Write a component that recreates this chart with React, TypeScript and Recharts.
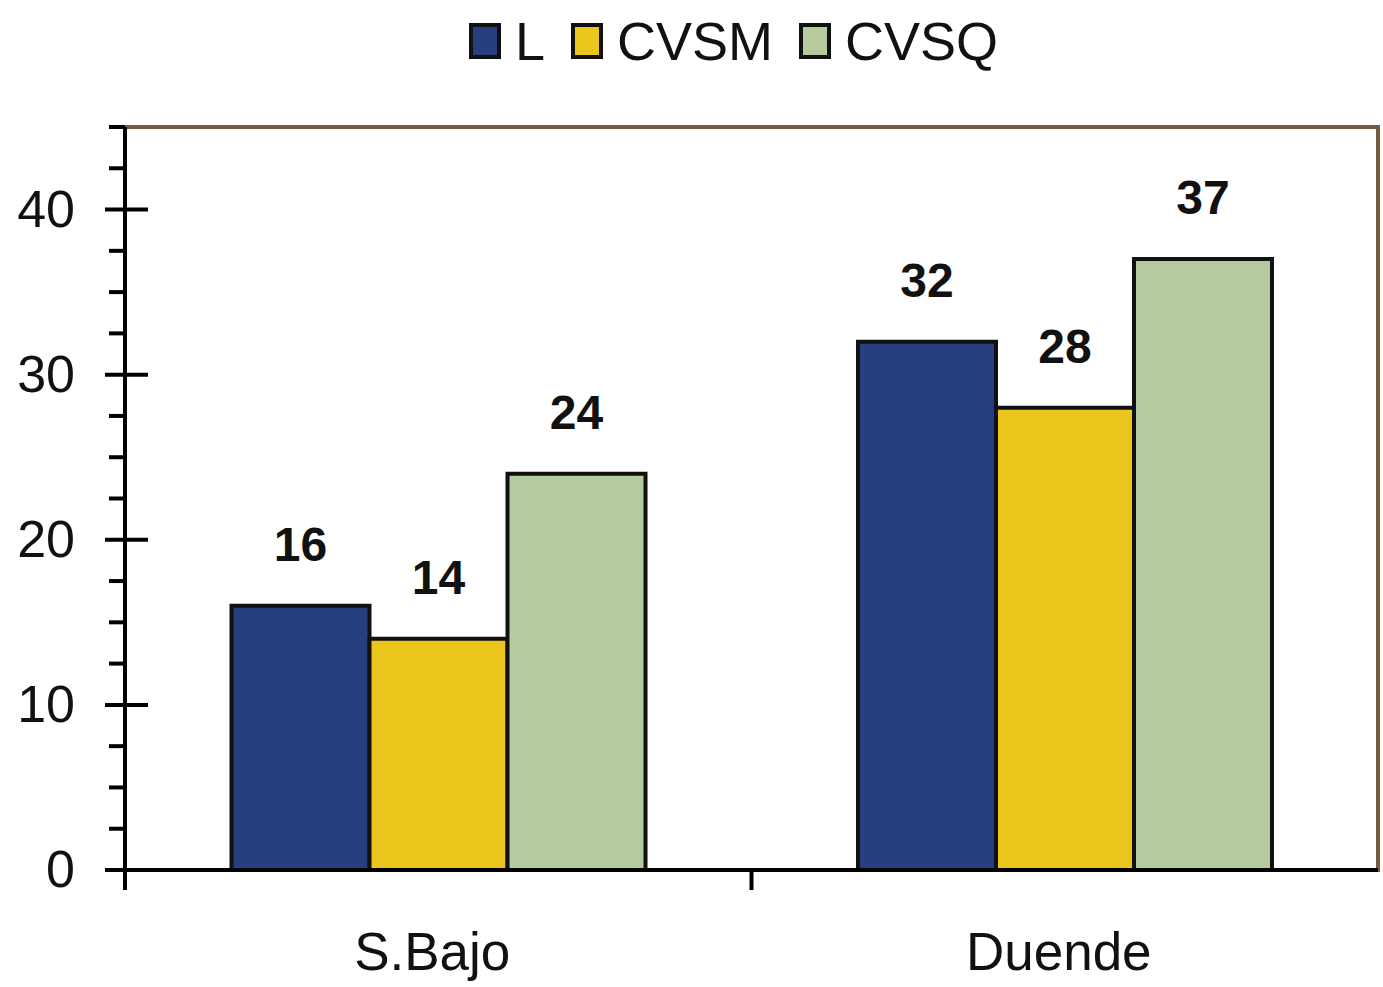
import React from 'react';
import { BarChart, Bar, XAxis, YAxis, Legend, LabelList, ReferenceArea } from 'recharts';

const sites = ['S.Bajo', 'Duende'];
const seriesL = [16, 32];
const seriesCVSM = [14, 28];
const seriesCVSQ = [24, 37];
const yTicks = [0, 2.5, 5, 7.5, 10, 12.5, 15, 17.5, 20, 22.5, 25, 27.5, 30, 32.5, 35, 37.5, 40, 42.5, 45];

const series = [
  { key: 'L', color: '#283f7f' },
  { key: 'CVSM', color: '#ebc71d' },
  { key: 'CVSQ', color: '#b5cb9d' },
];

const data = sites.map((site, i) => ({
  site,
  L: seriesL[i],
  CVSM: seriesCVSM[i],
  CVSQ: seriesCVSQ[i],
}));

const W = 1383;
const H = 987;
const LEFT = 125;
const RIGHT = 5;
const FONT = '"Liberation Sans", Arial, sans-serif';
const halfBand = (W - LEFT - RIGHT) / sites.length / 2;

const YTick = (props: any) => {
  const { x, y, payload } = props;
  const v = payload.value;
  const major = v % 10 === 0;
  return (
    <g>
      <line x1={major ? x - 20 : x - 16} x2={major ? x + 23 : x} y1={y} y2={y} stroke="#000" strokeWidth={4} />
      {v === 0 && <line x1={x} x2={x} y1={y} y2={y + 20} stroke="#000" strokeWidth={4} />}
      {major && (
        <text x={x - 50} y={y} dy={17} textAnchor="end" fontSize={52} fontFamily={FONT} fill="#111">
          {v}
        </text>
      )}
    </g>
  );
};

const XTick = (props: any) => {
  const { x, y, payload, index } = props;
  return (
    <g>
      {index > 0 && <line x1={x - halfBand} x2={x - halfBand} y1={y} y2={y + 18} stroke="#000" strokeWidth={4} />}
      <text x={x - 6} y={y} dy={98} textAnchor="middle" fontSize={53} fontFamily={FONT} fill="#111">
        {payload.value}
      </text>
    </g>
  );
};

const renderLegend = () => (
  <div style={{ display: 'flex', justifyContent: 'center', paddingLeft: 110, fontFamily: FONT, fontSize: 54, color: '#111' }}>
    {series.map((s) => (
      <div key={s.key} style={{ display: 'flex', alignItems: 'center', marginRight: 26 }}>
        <span style={{ display: 'inline-block', width: 24, height: 28, background: s.color, border: '4px solid #111', marginRight: 14 }} />
        <span style={{ lineHeight: '54px' }}>{s.key}</span>
      </div>
    ))}
  </div>
);

export default function App() {
  return (
    <div style={{ position: 'absolute', left: 0, top: 0, width: W, height: H, background: '#fff' }}>
      <BarChart width={W} height={H} data={data} margin={{ top: 127, right: RIGHT, bottom: 0, left: 0 }} barCategoryGap="17%" barGap={0}>
        <ReferenceArea y1={0} y2={45} fill="none" stroke="#7a5a3c" strokeWidth={4} ifOverflow="visible" />
        <XAxis dataKey="site" height={117} tickSize={0} tick={<XTick />} axisLine={{ stroke: '#000', strokeWidth: 4 }} interval={0} />
        <YAxis
          width={LEFT}
          domain={[0, 45]}
          ticks={yTicks}
          interval={0}
          tickSize={0}
          tickMargin={0}
          tick={<YTick />}
          axisLine={{ stroke: '#000', strokeWidth: 4 }}
        />
        <Legend verticalAlign="middle" align="center" content={renderLegend} wrapperStyle={{ top: 14, left: 0, width: W }} />
        {series.map((s) => (
          <Bar key={s.key} dataKey={s.key} fill={s.color} stroke="#111" strokeWidth={4} isAnimationActive={false}>
            <LabelList dataKey={s.key} position="top" offset={45} fontSize={48} fontWeight="bold" fontFamily={FONT} fill="#111" />
          </Bar>
        ))}
      </BarChart>
    </div>
  );
}
